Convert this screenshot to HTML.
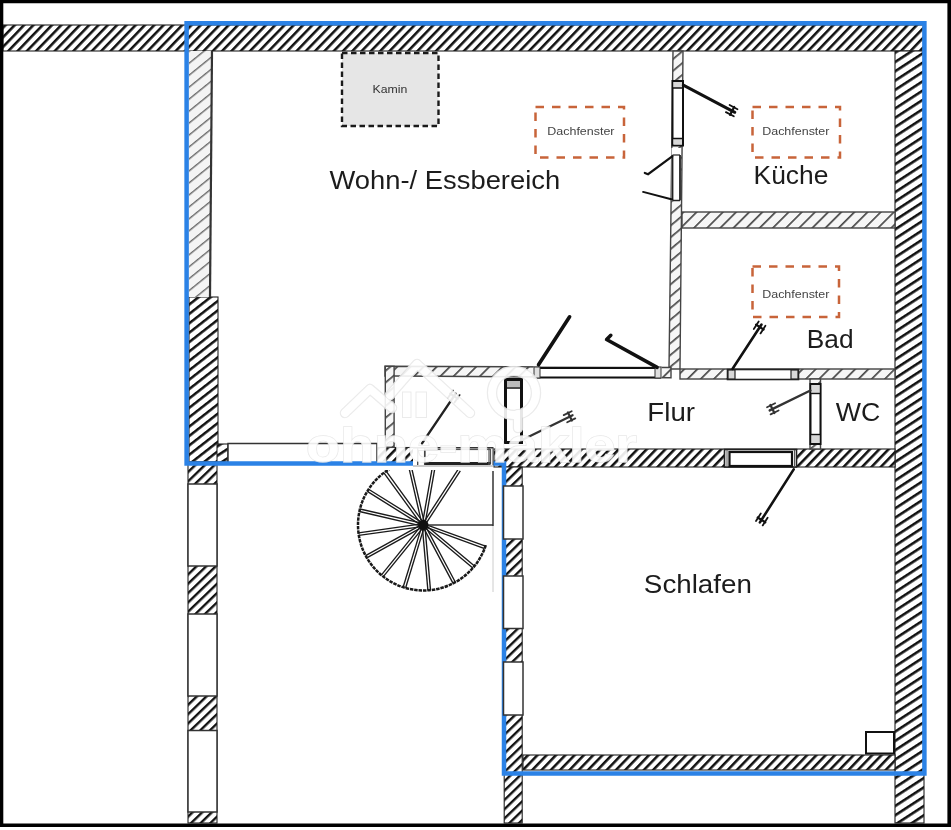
<!DOCTYPE html>
<html><head><meta charset="utf-8"><style>
html,body{margin:0;padding:0;background:#fff;width:951px;height:830px;overflow:hidden}
svg{display:block;will-change:transform}
text{font-family:"Liberation Sans",sans-serif}
</style></head><body>
<svg width="951" height="830" viewBox="0 0 951 830">
<defs>
<pattern id="hH" patternUnits="userSpaceOnUse" width="6.69" height="20" patternTransform="rotate(44)">
<rect x="0" y="0" width="6.69" height="20" fill="#fff"/><rect x="0" y="0" width="2.55" height="20" fill="#111"/></pattern>
<pattern id="hV" patternUnits="userSpaceOnUse" width="7.8" height="20" patternTransform="rotate(57)">
<rect x="0" y="0" width="7.8" height="20" fill="#fff"/><rect x="0" y="0" width="2.6" height="20" fill="#111"/></pattern>
<pattern id="hV2" patternUnits="userSpaceOnUse" width="6.7" height="20" patternTransform="rotate(46)">
<rect x="0" y="0" width="6.7" height="20" fill="#fff"/><rect x="0" y="0" width="2.4" height="20" fill="#111"/></pattern>
<pattern id="hV3" patternUnits="userSpaceOnUse" width="7.4" height="20" patternTransform="rotate(52)">
<rect x="0" y="0" width="7.4" height="20" fill="#fff"/><rect x="0" y="0" width="2.5" height="20" fill="#111"/></pattern>
<pattern id="hL" patternUnits="userSpaceOnUse" width="9.3" height="20" patternTransform="rotate(51)">
<rect x="0" y="0" width="9.3" height="20" fill="#f4f4f4"/><rect x="0" y="0" width="1.4" height="20" fill="#6a6a6a"/></pattern>
<pattern id="hM" patternUnits="userSpaceOnUse" width="9.3" height="20" patternTransform="rotate(45)">
<rect x="0" y="0" width="9.3" height="20" fill="#f6f6f6"/><rect x="0" y="0" width="1.7" height="20" fill="#4a4a4a"/></pattern>
<pattern id="hMV" patternUnits="userSpaceOnUse" width="9" height="20" patternTransform="rotate(50)">
<rect x="0" y="0" width="9" height="20" fill="#f6f6f6"/><rect x="0" y="0" width="1.7" height="20" fill="#4a4a4a"/></pattern>
</defs>

<g stroke="#222" stroke-width="1.1">
<rect x="3" y="25" width="921" height="26" fill="url(#hH)"/>
<rect x="895" y="51" width="29" height="772" fill="url(#hV)"/>
<rect x="189" y="297" width="29" height="165" fill="url(#hV3)"/>
<rect x="188" y="462" width="29" height="361" fill="url(#hV2)"/>
<rect x="217" y="444" width="11" height="18" fill="url(#hV)"/>
<rect x="377" y="447.5" width="38" height="16" fill="url(#hH)"/>
<rect x="494" y="449" width="401" height="18" fill="url(#hH)"/>
<rect x="504.2" y="467" width="18" height="356" fill="url(#hV2)"/>
<rect x="523" y="755" width="372" height="15" fill="url(#hH)"/>
</g>
<g stroke="#444" stroke-width="1.4">
<polygon points="189,51 212,51 210,297 189,297" fill="url(#hL)" stroke="none"/>
<line x1="212" y1="51" x2="210" y2="297" stroke="#333" stroke-width="2.2"/>
<polygon points="673,51 683,51 680,369 669,369" fill="url(#hMV)"/>
<rect x="682" y="212" width="213" height="16" fill="url(#hM)"/>
<polygon points="385,366.3 671,367.5 671,377.8 394,376 385,376" fill="url(#hM)"/>
<rect x="680" y="369" width="215" height="10" fill="url(#hM)"/>
<rect x="385.3" y="366.3" width="8.8" height="81" fill="url(#hMV)"/>
<rect x="810" y="379" width="10.5" height="70" fill="url(#hMV)"/>
</g>
<g fill="#fff" stroke="#333" stroke-width="1.5">
<rect x="188" y="484" width="29" height="82"/>
<rect x="188" y="614" width="29" height="82"/>
<rect x="188" y="730.5" width="29" height="81.5"/>
<rect x="228" y="443.5" width="149" height="20.5"/>
</g>
<rect x="672.5" y="81" width="10.5" height="64.5" fill="#fff" stroke="#111" stroke-width="2"/>
<rect x="673.5" y="82" width="8.5" height="6" fill="#d8d8d8"/><rect x="673.5" y="138.5" width="8.5" height="6" fill="#d8d8d8"/>
<line x1="672.5" y1="88" x2="683" y2="88" stroke="#111" stroke-width="1.5"/><line x1="672.5" y1="138.5" x2="683" y2="138.5" stroke="#111" stroke-width="1.5"/>
<line x1="683.3" y1="85.2" x2="734.8" y2="112.3" stroke="#111" stroke-width="3" stroke-linecap="round"/><line x1="730.0" y1="114.9" x2="734.2" y2="106.9" stroke="#111" stroke-width="2.2" stroke-linecap="round"/><line x1="725.9" y1="112.1" x2="733.8" y2="116.3" stroke="#111" stroke-width="1.8" stroke-linecap="round"/><line x1="729.6" y1="105.0" x2="737.5" y2="109.2" stroke="#111" stroke-width="1.8" stroke-linecap="round"/>
<rect x="671.5" y="148" width="9.5" height="53" fill="#fff"/>
<line x1="672.5" y1="155" x2="672.5" y2="200.5" stroke="#222" stroke-width="1.8"/><line x1="680" y1="155" x2="680" y2="200.5" stroke="#222" stroke-width="1.8"/>
<line x1="672.5" y1="155" x2="680" y2="155" stroke="#222" stroke-width="1.2"/><line x1="672.5" y1="200.5" x2="680" y2="200.5" stroke="#222" stroke-width="1.5"/>
<polyline points="672.2,156.4 648.1,174.2 644.8,172.9" fill="none" stroke="#111" stroke-width="2.2" stroke-linecap="round"/>
<line x1="643.1" y1="191.9" x2="672.2" y2="199.5" stroke="#111" stroke-width="2" stroke-linecap="round"/>
<rect x="533.5" y="366.5" width="128" height="12" fill="#fff"/>
<line x1="538" y1="368" x2="660" y2="368" stroke="#111" stroke-width="2.2"/><line x1="533.5" y1="377.5" x2="661" y2="377.5" stroke="#111" stroke-width="2.2"/>
<rect x="534" y="367" width="6" height="11" fill="#e0e0e0" stroke="#333" stroke-width="1"/><rect x="655" y="367" width="6" height="11" fill="#e0e0e0" stroke="#333" stroke-width="1"/>
<line x1="538.5" y1="364.8" x2="569.6" y2="316.8" stroke="#111" stroke-width="3.6" stroke-linecap="round"/>
<polyline points="657.1,367.3 606.6,339.5 610.8,335.3" fill="none" stroke="#111" stroke-width="3.6" stroke-linecap="round" stroke-linejoin="round"/>
<rect x="505.5" y="379.5" width="16" height="63" fill="#fff" stroke="#111" stroke-width="3"/>
<rect x="507" y="381" width="13" height="6" fill="#bbb"/><line x1="505" y1="388" x2="522" y2="388" stroke="#111" stroke-width="1.5"/>
<line x1="521.0" y1="440.5" x2="572.6" y2="415.2" stroke="#333" stroke-width="2.2" stroke-linecap="round"/><line x1="571.9" y1="420.6" x2="567.9" y2="412.5" stroke="#333" stroke-width="2.2" stroke-linecap="round"/><line x1="567.2" y1="422.3" x2="575.3" y2="418.4" stroke="#333" stroke-width="1.8" stroke-linecap="round"/><line x1="563.7" y1="415.1" x2="571.7" y2="411.2" stroke="#333" stroke-width="1.8" stroke-linecap="round"/>
<line x1="422.0" y1="443.3" x2="455.7" y2="393.7" stroke="#222" stroke-width="2.4" stroke-linecap="round"/><line x1="457.7" y1="398.7" x2="450.3" y2="393.7" stroke="#222" stroke-width="2.2" stroke-linecap="round"/><line x1="454.5" y1="402.6" x2="459.6" y2="395.1" stroke="#222" stroke-width="1.8" stroke-linecap="round"/><line x1="447.9" y1="398.1" x2="453.0" y2="390.6" stroke="#222" stroke-width="1.8" stroke-linecap="round"/>
<rect x="727.5" y="369.5" width="71" height="10" fill="#fff" stroke="#222" stroke-width="1.6"/>
<rect x="728" y="370" width="7" height="9" fill="#d8d8d8" stroke="#222" stroke-width="1.2"/><rect x="791" y="370" width="7" height="9" fill="#d8d8d8" stroke="#222" stroke-width="1.2"/>
<line x1="732.6" y1="368.8" x2="761.5" y2="324.5" stroke="#111" stroke-width="2.6" stroke-linecap="round"/><line x1="763.6" y1="329.5" x2="756.1" y2="324.6" stroke="#111" stroke-width="2.2" stroke-linecap="round"/><line x1="760.5" y1="333.4" x2="765.4" y2="325.8" stroke="#111" stroke-width="1.8" stroke-linecap="round"/><line x1="753.8" y1="329.0" x2="758.7" y2="321.5" stroke="#111" stroke-width="1.8" stroke-linecap="round"/>
<rect x="810.5" y="384" width="10" height="60" fill="#fff" stroke="#111" stroke-width="2"/>
<rect x="811.5" y="385" width="8" height="8" fill="#d8d8d8"/><rect x="811.5" y="435" width="8" height="8" fill="#d8d8d8"/>
<line x1="810.5" y1="393.5" x2="820.5" y2="393.5" stroke="#111" stroke-width="1.4"/><line x1="810.5" y1="434.5" x2="820.5" y2="434.5" stroke="#111" stroke-width="1.4"/>
<line x1="810.4" y1="390.5" x2="769.7" y2="410.4" stroke="#333" stroke-width="2.4" stroke-linecap="round"/><line x1="770.4" y1="405.0" x2="774.4" y2="413.1" stroke="#333" stroke-width="2.2" stroke-linecap="round"/><line x1="775.1" y1="403.3" x2="767.0" y2="407.2" stroke="#333" stroke-width="1.8" stroke-linecap="round"/><line x1="778.6" y1="410.5" x2="770.6" y2="414.4" stroke="#333" stroke-width="1.8" stroke-linecap="round"/>
<rect x="724.5" y="449.5" width="72" height="17.5" fill="#fff" stroke="#222" stroke-width="1.6"/>
<rect x="729.5" y="452" width="62.5" height="14" fill="#fff" stroke="#111" stroke-width="2.2"/>
<line x1="727" y1="450" x2="727" y2="467" stroke="#555" stroke-width="1"/><line x1="794.5" y1="450" x2="794.5" y2="467" stroke="#555" stroke-width="1"/>
<line x1="793.7" y1="469.4" x2="759.9" y2="522.4" stroke="#111" stroke-width="2.6" stroke-linecap="round"/><line x1="757.7" y1="517.5" x2="765.3" y2="522.3" stroke="#111" stroke-width="2.2" stroke-linecap="round"/><line x1="760.8" y1="513.5" x2="756.0" y2="521.1" stroke="#111" stroke-width="1.8" stroke-linecap="round"/><line x1="767.6" y1="517.8" x2="762.7" y2="525.4" stroke="#111" stroke-width="1.8" stroke-linecap="round"/>
<clipPath id="stc"><rect x="340" y="470" width="160" height="140"/></clipPath>
<g clip-path="url(#stc)">
<path d="M485.8,545.2 A65.5,65.5 0 1 1 414.4,460.1" fill="none" stroke="#1a1a1a" stroke-width="2.5" stroke-dasharray="3.5 0.9"/>
<line x1="423.9" y1="523.8" x2="485.5" y2="546.2" stroke="#1a1a1a" stroke-width="1.35"/>
<line x1="423.1" y1="526.2" x2="484.6" y2="548.6" stroke="#1a1a1a" stroke-width="1.35"/>
<line x1="424.3" y1="524.0" x2="474.5" y2="566.1" stroke="#1a1a1a" stroke-width="1.35"/>
<line x1="422.7" y1="526.0" x2="472.8" y2="568.1" stroke="#1a1a1a" stroke-width="1.35"/>
<line x1="424.6" y1="524.4" x2="455.4" y2="582.2" stroke="#1a1a1a" stroke-width="1.35"/>
<line x1="422.4" y1="525.6" x2="453.1" y2="583.4" stroke="#1a1a1a" stroke-width="1.35"/>
<line x1="424.8" y1="524.9" x2="430.5" y2="590.1" stroke="#1a1a1a" stroke-width="1.35"/>
<line x1="422.2" y1="525.1" x2="427.9" y2="590.4" stroke="#1a1a1a" stroke-width="1.35"/>
<line x1="424.7" y1="525.4" x2="405.6" y2="588.0" stroke="#1a1a1a" stroke-width="1.35"/>
<line x1="422.3" y1="524.6" x2="403.1" y2="587.3" stroke="#1a1a1a" stroke-width="1.35"/>
<line x1="424.5" y1="525.8" x2="383.3" y2="576.7" stroke="#1a1a1a" stroke-width="1.35"/>
<line x1="422.5" y1="524.2" x2="381.3" y2="575.1" stroke="#1a1a1a" stroke-width="1.35"/>
<line x1="424.1" y1="526.1" x2="366.8" y2="557.9" stroke="#1a1a1a" stroke-width="1.35"/>
<line x1="422.9" y1="523.9" x2="365.6" y2="555.6" stroke="#1a1a1a" stroke-width="1.35"/>
<line x1="423.7" y1="526.3" x2="358.8" y2="535.4" stroke="#1a1a1a" stroke-width="1.35"/>
<line x1="423.3" y1="523.7" x2="358.5" y2="532.8" stroke="#1a1a1a" stroke-width="1.35"/>
<line x1="423.2" y1="526.3" x2="359.4" y2="511.5" stroke="#1a1a1a" stroke-width="1.35"/>
<line x1="423.8" y1="523.7" x2="360.0" y2="509.0" stroke="#1a1a1a" stroke-width="1.35"/>
<line x1="422.8" y1="526.1" x2="367.3" y2="491.4" stroke="#1a1a1a" stroke-width="1.35"/>
<line x1="424.2" y1="523.9" x2="368.6" y2="489.2" stroke="#1a1a1a" stroke-width="1.35"/>
<line x1="422.4" y1="525.8" x2="383.9" y2="472.8" stroke="#1a1a1a" stroke-width="1.35"/>
<line x1="424.6" y1="524.2" x2="386.1" y2="471.2" stroke="#1a1a1a" stroke-width="1.35"/>
<line x1="422.2" y1="525.3" x2="407.5" y2="461.5" stroke="#1a1a1a" stroke-width="1.35"/>
<line x1="424.8" y1="524.7" x2="410.0" y2="460.9" stroke="#1a1a1a" stroke-width="1.35"/>
<line x1="422.2" y1="524.8" x2="433.6" y2="460.3" stroke="#1a1a1a" stroke-width="1.35"/>
<line x1="424.8" y1="525.2" x2="436.2" y2="460.7" stroke="#1a1a1a" stroke-width="1.35"/>
<line x1="422.4" y1="524.3" x2="458.1" y2="469.4" stroke="#1a1a1a" stroke-width="1.35"/>
<line x1="424.6" y1="525.7" x2="460.3" y2="470.8" stroke="#1a1a1a" stroke-width="1.35"/>
</g>
<line x1="423.5" y1="525" x2="493" y2="525" stroke="#333" stroke-width="1.5"/>
<line x1="493" y1="471" x2="493" y2="526" stroke="#333" stroke-width="1.5"/>
<line x1="493" y1="526" x2="493" y2="592" stroke="#ccc" stroke-width="1"/>
<circle cx="423.5" cy="525" r="5" fill="#111"/>
<path d="M186.6,23.2 H924.4 V773.4 H504 V463.4 H186.6 Z" fill="none" stroke="#2b82e6" stroke-width="4.5" stroke-linejoin="miter"/>
<rect x="413" y="447" width="80" height="19.5" fill="#fff"/>
<line x1="413" y1="447.7" x2="493.5" y2="447.7" stroke="#333" stroke-width="1.4"/>
<line x1="413" y1="466" x2="493.5" y2="466" stroke="#999" stroke-width="1"/>
<rect x="425" y="449.5" width="65.5" height="14" fill="#fff" stroke="#555" stroke-width="1.2"/>
<line x1="425" y1="463.6" x2="490.5" y2="463.6" stroke="#222" stroke-width="3"/>
<line x1="417.7" y1="448" x2="417.7" y2="465" stroke="#444" stroke-width="1.3"/><line x1="424.6" y1="448" x2="424.6" y2="465" stroke="#444" stroke-width="1.3"/>
<line x1="489" y1="448" x2="489" y2="465" stroke="#555" stroke-width="1.2"/><line x1="493" y1="448" x2="493" y2="465" stroke="#555" stroke-width="1.2"/>
<g fill="#fff" stroke="#333" stroke-width="1.5">
<rect x="503.5" y="486" width="19.5" height="53"/>
<rect x="503.5" y="576" width="19.5" height="52.5"/>
<rect x="503.5" y="662" width="19.5" height="53"/>
</g>
<rect x="342" y="53" width="96.5" height="73" fill="#e6e6e6" stroke="#1a1a1a" stroke-width="2.4" stroke-dasharray="5.5 3.5"/>
<g fill="none" stroke="#c8643a" stroke-width="2.5" stroke-dasharray="8.5 8">
<rect x="535.5" y="107" width="88.5" height="50.5"/>
<rect x="752.5" y="107" width="87.5" height="50.5"/>
<rect x="752.5" y="266.5" width="86.5" height="50.5"/>
</g>
<text transform="translate(329.50,189.10) scale(1.0528,1)" font-size="26" fill="#1c1c1c">Wohn-/ Essbereich</text>
<text transform="translate(753.57,184.30) scale(1.0155,1)" font-size="26" fill="#1c1c1c">Küche</text>
<text transform="translate(806.78,347.80) scale(1.0116,1)" font-size="26" fill="#1c1c1c">Bad</text>
<text transform="translate(647.37,420.80) scale(1.0643,1)" font-size="26" fill="#1c1c1c">Flur</text>
<text transform="translate(835.80,420.80) scale(1.0286,1)" font-size="26" fill="#1c1c1c">WC</text>
<text transform="translate(643.86,592.90) scale(1.0684,1)" font-size="26" fill="#1c1c1c">Schlafen</text>
<text transform="translate(372.43,93.30) scale(1.0710,1)" font-size="11.5" fill="#333">Kamin</text>
<text transform="translate(547.31,135.40) scale(1.0852,1)" font-size="11.5" fill="#444">Dachfenster</text>
<text transform="translate(762.21,135.40) scale(1.0852,1)" font-size="11.5" fill="#444">Dachfenster</text>
<text transform="translate(762.21,297.90) scale(1.0852,1)" font-size="11.5" fill="#444">Dachfenster</text>
<rect x="866" y="732" width="28" height="21.5" fill="#fff" stroke="#111" stroke-width="2"/>
<g opacity="0.9">
<g fill="none" stroke="#e9e9e9" stroke-width="10.5" stroke-linejoin="round" stroke-linecap="round">
<polyline points="345,413 370,389 392,408"/><polyline points="390,395 417,364 470,413"/>
<circle cx="514" cy="393" r="22"/><line x1="518" y1="414" x2="518" y2="428"/>
</g>
<g fill="none" stroke="#fff" stroke-width="8" stroke-linejoin="round" stroke-linecap="round">
<polyline points="345,413 370,389 392,408"/><polyline points="390,395 417,364 470,413"/>
<circle cx="514" cy="393" r="22"/><line x1="518" y1="414" x2="518" y2="428"/>
</g>
<rect x="402.5" y="392" width="8.5" height="25.5" fill="#fff" stroke="#e9e9e9" stroke-width="1"/>
<rect x="416" y="392" width="10.5" height="25.5" fill="#fff" stroke="#e9e9e9" stroke-width="1"/>
<text transform="translate(306,462) scale(1.16,1)" font-size="48" font-weight="bold" fill="#fff" stroke="#e6e6e6" stroke-width="1.3" paint-order="stroke">ohne-makler</text>
</g>
<path d="M0,0 H951 V826.9 H0 Z M3.3,3.3 V823.6 H947.4 V3.3 Z" fill="#000" fill-rule="evenodd"/>
</svg>
</body></html>
